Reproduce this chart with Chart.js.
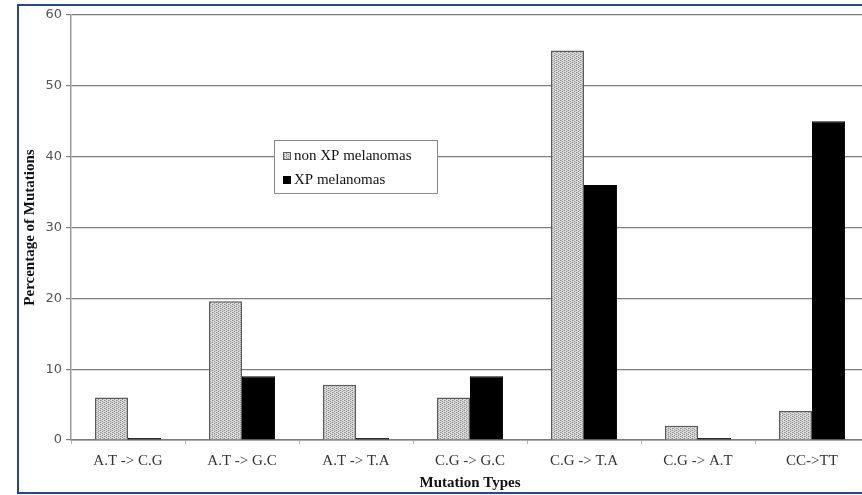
<!DOCTYPE html>
<html>
<head>
<meta charset="utf-8">
<title>Mutation Types</title>
<script src="https://cdn.jsdelivr.net/npm/chart.js@4"></script>
<style>
  html, body { margin: 0; padding: 0; background: #fff; overflow: hidden; }
  #wrap { position: relative; width: 880px; height: 495px; }
  #frame {
    position: absolute; left: 17px; top: 4px; width: 900px; height: 486px;
    border: 2px solid #2445a4; border-right: none; pointer-events: none;
  }
</style>
</head>
<body>
<div id="wrap">
  <canvas id="grafico" width="880" height="495"></canvas>
  <div id="frame"></div>
</div>
<script>
// Datos
const categorias = ['A.T -> C.G', 'A.T -> G.C', 'A.T -> T.A', 'C.G -> G.C', 'C.G -> T.A', 'C.G -> A.T', 'CC->TT'];
const nonXP = [6, 19.6, 7.8, 6, 55, 2, 4.1];
const xp = [0.3, 9, 0.3, 9, 36, 0.3, 45];
const ticksY = [0, 10, 20, 30, 40, 50, 60];

// Trama punteada gris para las barras "non XP"
function crearTrama() {
    const c = document.createElement('canvas');
    c.width = 4; c.height = 4;
    const g = c.getContext('2d');
    g.fillStyle = '#dcdcdc';
    g.fillRect(0, 0, 4, 4);
    g.fillStyle = '#8c8c8c';
    g.fillRect(0, 0, 1, 1);
    g.fillRect(2, 1, 1, 1);
    g.fillRect(0, 2, 1, 1);
    g.fillRect(2, 3, 1, 1);
    g.fillStyle = '#b4b4b4';
    g.fillRect(1, 0, 1, 1);
    g.fillRect(3, 2, 1, 1);
    return g.createPattern(c, 'repeat');
}
const trama = crearTrama();

// Leyenda dentro del area del grafico (caja con borde gris)
const leyendaCaja = {
    id: 'leyendaCaja',
    afterDraw(chart) {
        const ctx = chart.ctx;
        const x = 274, y = 140, w = 163, h = 53;
        ctx.save();
        ctx.fillStyle = '#fff';
        ctx.fillRect(x, y, w, h);
        ctx.strokeStyle = '#8a8a8a';
        ctx.lineWidth = 1;
        ctx.strokeRect(x + 0.5, y + 0.5, w, h);
        ctx.font = '15px "Liberation Serif"';
        ctx.textBaseline = 'middle';
        chart.data.datasets.forEach((ds, i) => {
            const cy = y + 16 + i * 24;
            ctx.fillStyle = ds.backgroundColor;
            ctx.fillRect(x + 9, cy - 4, 8, 8);
            ctx.strokeStyle = ds.borderColor;
            ctx.strokeRect(x + 9.5, cy - 3.5, 7, 7);
            ctx.fillStyle = '#111';
            ctx.fillText(ds.label, x + 20, cy);
        });
        ctx.restore();
    }
};

new Chart(document.getElementById('grafico').getContext('2d'), {
    type: 'bar',
    data: {
        labels: categorias,
        datasets: [
            {
                label: 'non XP melanomas',
                data: nonXP,
                backgroundColor: trama,
                borderColor: '#5a5a5a',
                borderWidth: 1.5,
                categoryPercentage: 0.58,
                barPercentage: 1.0
            },
            {
                label: 'XP melanomas',
                data: xp,
                backgroundColor: '#000',
                borderColor: '#000',
                borderWidth: 1,
                categoryPercentage: 0.58,
                barPercentage: 1.0
            }
        ]
    },
    options: {
        responsive: false,
        animation: false,
        layout: { padding: { left: 0, top: 15, right: 11, bottom: 0 } },
        plugins: {
            legend: { display: false },
            tooltip: { enabled: false }
        },
        scales: {
            x: {
                afterFit: s => { s.height = 55; },
                grid: { display: true, offset: true, drawOnChartArea: false, tickLength: 4, color: '#b0b0b0' },
                border: { display: true, color: '#7a7a7a', width: 1.5 },
                ticks: { color: '#333', padding: 8, font: { family: 'Liberation Serif', size: 15 } },
                title: {
                    display: true, text: 'Mutation Types', color: '#111',
                    padding: { top: 0, bottom: 3 },
                    font: { family: 'Liberation Serif', size: 15, weight: 'bold' }
                }
            },
            y: {
                min: 0, max: 60,
                afterFit: s => { s.width = 71; },
                afterBuildTicks: s => { s.ticks = ticksY.map(v => ({ value: v })); },
                grid: { color: '#7e7e7e', lineWidth: 1.2, tickLength: 5 },
                border: { display: true, color: '#9a9a9a', width: 1.5 },
                ticks: { color: '#555', padding: 4, font: { family: 'DejaVu Sans', size: 13 } },
                title: {
                    display: true, text: 'Percentage of Mutations', color: '#111',
                    padding: { top: 21, bottom: 0 },
                    font: { family: 'Liberation Serif', size: 15, weight: 'bold' }
                }
            }
        }
    },
    plugins: [leyendaCaja]
});
</script>
</body>
</html>
